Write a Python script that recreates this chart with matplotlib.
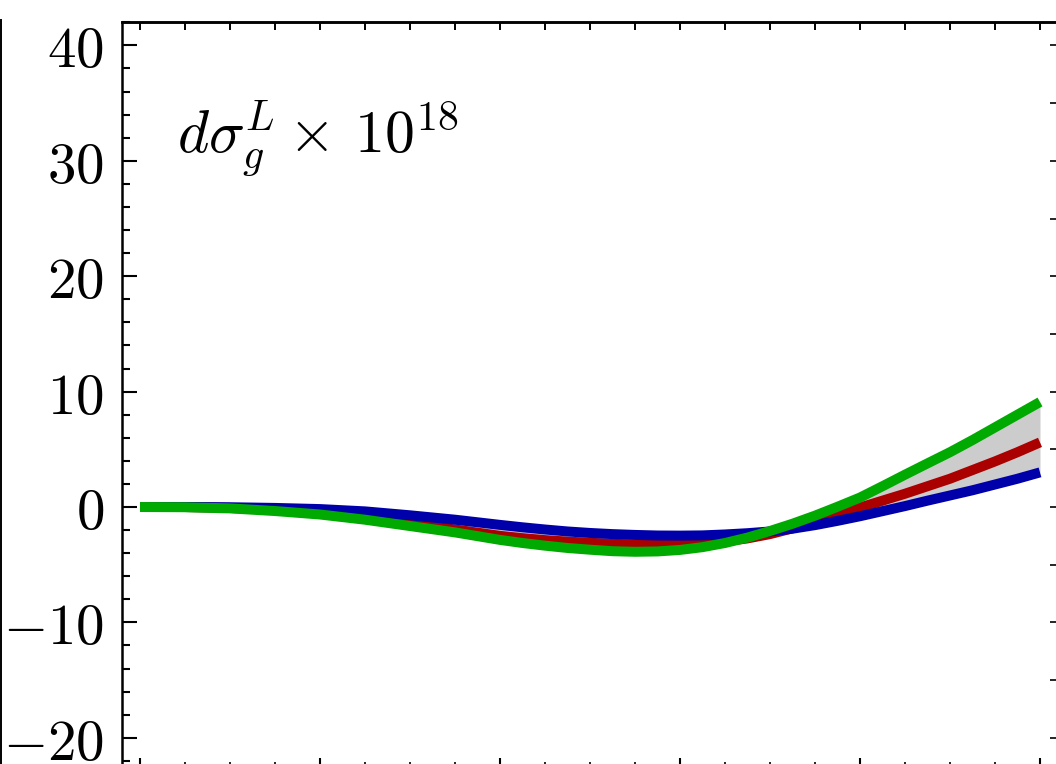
import matplotlib
matplotlib.use('Agg')
import matplotlib.pyplot as plt
from matplotlib.ticker import MultipleLocator, FixedLocator, NullFormatter
from matplotlib.lines import Line2D

plt.rcParams['mathtext.fontset'] = 'cm'
plt.rcParams['font.family'] = ['DejaVu Serif']

# 读数（从图上估计）
x = [0.0, 0.25, 0.5, 0.75, 1.0, 1.25, 1.5, 1.75,
     2.0, 2.125, 2.25, 2.375, 2.5, 2.625, 2.75, 2.875,
     3.0, 3.125, 3.25, 3.375, 3.5, 3.625, 3.75, 3.875,
     4.0, 4.125, 4.25, 4.375, 4.5, 4.625, 4.75, 4.875, 5.0]
blue = [0.0, 0.0, -0.02, -0.08, -0.18, -0.38, -0.72, -1.1,
        -1.55, -1.76, -1.95, -2.12, -2.25, -2.35, -2.42, -2.47,
        -2.48, -2.46, -2.38, -2.27, -2.12, -1.88, -1.57, -1.2,
        -0.8, -0.36, 0.08, 0.55, 1.0, 1.45, 1.95, 2.45, 3.0]
red = [0.0, 0.0, -0.08, -0.25, -0.5, -0.9, -1.4, -1.95,
       -2.5, -2.7, -2.87, -3.0, -3.1, -3.19, -3.25, -3.28,
       -3.25, -3.15, -2.98, -2.72, -2.35, -1.85, -1.25, -0.65,
       -0.05, 0.55, 1.15, 1.8, 2.45, 3.2, 3.95, 4.75, 5.6]
green = [0.0, -0.02, -0.12, -0.35, -0.65, -1.1, -1.65, -2.2,
         -2.85, -3.12, -3.35, -3.55, -3.7, -3.83, -3.88, -3.85,
         -3.72, -3.48, -3.12, -2.65, -2.08, -1.45, -0.75, 0.02,
         0.82, 1.8, 2.8, 3.78, 4.75, 5.8, 6.9, 8.0, 9.1]

y_ticks = [-20, -10, 0, 10, 20, 30, 40]
y_labels = ['$-20$', '$-10$', '$0$', '$10$', '$20$', '$30$', '$40$']
label = r'$d\sigma_g^L \times\, 10^{18}$'

W, H = 1056, 764
fig = plt.figure(figsize=(W / 100, H / 100), dpi=100)
# 坐标框：左边 122px，顶部 22px，右、下边在图外
left, top, right, bottom = 122, 22, 1057, 770
ax = fig.add_axes([left / W, 1 - bottom / H, (right - left) / W, (bottom - top) / H])

ax.fill_between(x, blue, green, color='#cccccc', lw=0, zorder=1)
ax.plot(x, red, color='#aa0000', lw=7.2, solid_capstyle='butt', zorder=2)
ax.plot(x, blue, color='#0000aa', lw=7.2, solid_capstyle='butt', zorder=3)
ax.plot(x, green, color='#00aa00', lw=7.2, solid_capstyle='butt', zorder=4)

px_unit_y = 11.54
ax.set_ylim(-(bottom - 507) / px_unit_y, (507 - top) / px_unit_y)
ax.set_xlim(-(140 - left) / 180, (right - 140) / 180)

for s in ['left', 'top', 'right', 'bottom']:
    ax.spines[s].set_linewidth(1.8)

ax.yaxis.set_major_locator(FixedLocator(y_ticks))
ax.set_yticklabels(y_labels)
ax.yaxis.set_minor_locator(MultipleLocator(2))
ax.xaxis.set_major_locator(MultipleLocator(1))
ax.xaxis.set_minor_locator(MultipleLocator(0.25))
ax.xaxis.set_major_formatter(NullFormatter())

ax.tick_params(axis='y', which='major', direction='in', length=10.8, width=1.5,
               labelsize=41, pad=13, right=False)
ax.tick_params(axis='y', which='minor', direction='in', length=5.8, width=1.5, right=False)
ax.tick_params(axis='x', which='major', direction='in', length=9, width=1.5, top=False)
ax.tick_params(axis='x', which='minor', direction='in', length=5.8, width=1.2, top=False)

# 顶部和右侧的短刻度
sx = ax.secondary_xaxis('top')
sx.xaxis.set_major_locator(MultipleLocator(0.25))
sx.xaxis.set_major_formatter(NullFormatter())
sx.tick_params(direction='in', length=5.8, width=1.4)
sx.spines['top'].set_linewidth(1.8)

sy = ax.secondary_yaxis('right')
sy.yaxis.set_major_locator(MultipleLocator(5))
sy.yaxis.set_major_formatter(NullFormatter())
sy.tick_params(direction='in', length=5, width=1.2)

ax.text((177 - left) / (right - left), (bottom - 152) / (bottom - top), label,
        transform=ax.transAxes, fontsize=43, ha='left', va='baseline')

# 左边缘上相邻子图的边框线
fig.add_artist(Line2D([0.8 / W, 0.8 / W], [0, 1 - 20 / H], color='black', lw=1.4,
                      transform=fig.transFigure))

fig.savefig('out.png', dpi=100)
